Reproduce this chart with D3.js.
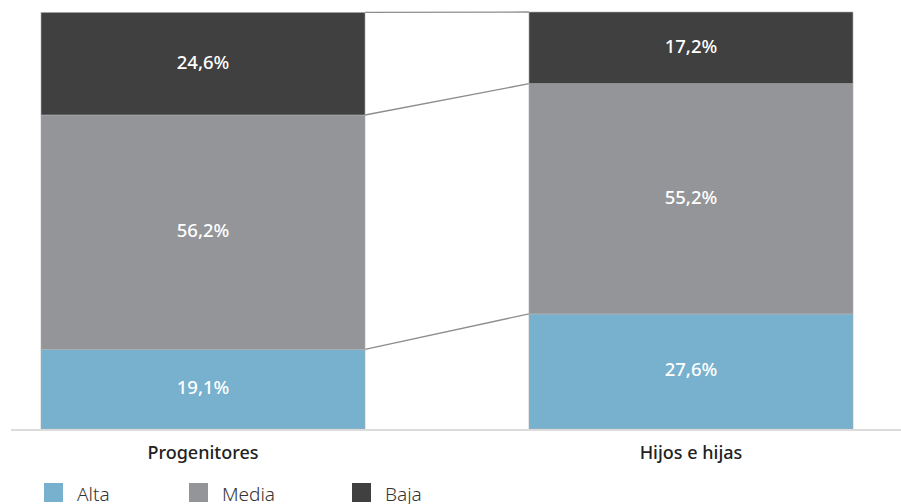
<!DOCTYPE html>
<html><head><meta charset="utf-8">
<script src="https://cdn.jsdelivr.net/npm/d3@7"></script>
<style>
html,body{margin:0;padding:0;background:#fff;}
svg{display:block;font-family:"Noto Sans","Roboto",sans-serif;}
</style></head>
<body>
<svg id="chart" width="901" height="504"></svg>
<script>
const categories = ["Progenitores", "Hijos e hijas"];
const seriesNames = ["Alta", "Media", "Baja"];
const alta = [19.1, 27.6];
const media = [56.2, 55.2];
const baja = [24.6, 17.2];
const valueLabels = {
  Alta: ["19,1%", "27,6%"],
  Media: ["56,2%", "55,2%"],
  Baja: ["24,6%", "17,2%"]
};
const colors = ["#78b1cd", "#939598", "#404040"];

const svg = d3.select("#chart");
const x = d3.scaleBand().domain(categories).range([41, 853]).paddingInner(0.336).paddingOuter(0);
const y = d3.scaleLinear().domain([0, 100]).range([429, 12]);

const rows = categories.map((c, i) => ({cat: c, Alta: alta[i], Media: media[i], Baja: baja[i]}));
const stacked = d3.stack().keys(seriesNames)(rows);

// connectors
const g = svg.append("g");
const c0 = categories[0], c1 = categories[1];
const xL = x(c0) + x.bandwidth(), xR = x(c1);
const boundaries = stacked.map(s => [s[0][1], s[1][1]]);
g.selectAll("line.conn").data(boundaries).join("line")
  .attr("x1", xL).attr("x2", xR)
  .attr("y1", d => y(d[0])).attr("y2", d => y(d[1]))
  .attr("stroke", "#8d8d8f").attr("stroke-width", 1.3);

// bars
const layer = svg.selectAll("g.layer").data(stacked).join("g").attr("class", "layer")
  .attr("fill", (d, i) => colors[i]);
layer.selectAll("rect").data(d => d.map(v => ({v, key: d.key}))).join("rect")
  .attr("x", d => x(d.v.data.cat))
  .attr("width", x.bandwidth())
  .attr("y", d => y(d.v[1]))
  .attr("height", d => y(d.v[0]) - y(d.v[1]))
  .attr("stroke", "#b0b0b2").attr("stroke-width", 0.6);

layer.selectAll("text").data(d => d.map((v, i) => ({v, key: d.key, i}))).join("text")
  .attr("x", d => x(d.v.data.cat) + x.bandwidth() / 2)
  .attr("y", d => (y(d.v[0]) + y(d.v[1])) / 2 - 1.5)
  .attr("dy", "0.35em")
  .attr("text-anchor", "middle")
  .attr("fill", "#fff")
  .attr("font-size", 18.5)
  .attr("font-weight", 500)
  .text(d => valueLabels[d.key][d.i]);

// axis
svg.append("line").attr("x1", 11).attr("x2", 901).attr("y1", 430).attr("y2", 430)
  .attr("stroke", "#dcdcdc").attr("stroke-width", 2);

svg.selectAll("text.cat").data(categories).join("text").attr("class", "cat")
  .attr("x", d => x(d) + x.bandwidth() / 2)
  .attr("y", 459)
  .attr("text-anchor", "middle")
  .attr("fill", "#222")
  .attr("font-size", 18)
  .attr("font-weight", 500)
  .text(d => d);

// legend
const legendX = [44, 189, 352];
const lg = svg.selectAll("g.leg").data(seriesNames).join("g").attr("class", "leg")
  .attr("transform", (d, i) => `translate(${legendX[i]},483)`);
lg.append("rect").attr("width", 19).attr("height", 19).attr("fill", (d, i) => colors[i]);
lg.append("text").attr("x", 33).attr("y", 17.5).attr("font-size", 19).attr("fill", "#333")
  .attr("font-weight", 300).text(d => d);
</script>
</body></html>
